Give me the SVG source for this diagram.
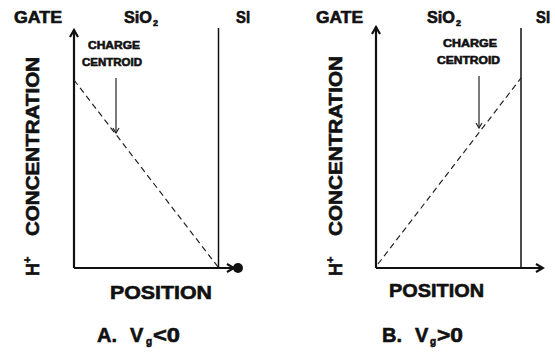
<svg xmlns="http://www.w3.org/2000/svg" width="555" height="352" viewBox="0 0 555 352">
<style>
.t{font-family:"Liberation Sans",Arial,sans-serif;font-weight:bold;fill:#111;stroke:#111;stroke-width:0.6}
.ax{stroke:#111;stroke-width:2.2;fill:none}
.si{stroke:#111;stroke-width:1.5;fill:none}
.dash{stroke:#222;stroke-width:1.2;stroke-dasharray:6,4;fill:none}
.cc{stroke:#222;stroke-width:1.2;fill:none}
</style>
<defs>
<marker id="ah" markerWidth="10" markerHeight="10" refX="8" refY="5" orient="auto" markerUnits="userSpaceOnUse">
<path d="M1,1 L8,5 L1,9" fill="none" stroke="#111" stroke-width="2.2"/>
</marker>
<marker id="sm" markerWidth="10" markerHeight="10" refX="5" refY="9" orient="0" markerUnits="userSpaceOnUse">
<path d="M2,4 L5,9 L8,4" fill="none" stroke="#222" stroke-width="1.2"/>
</marker>
</defs>
<rect width="555" height="352" fill="#fff"/>

<g id="panelA">
<text class="t" x="14" y="23" font-size="16" textLength="48" lengthAdjust="spacingAndGlyphs">GATE</text>
<text class="t" x="124" y="23" font-size="16" textLength="28" lengthAdjust="spacingAndGlyphs">SiO</text>
<text class="t" x="153" y="26" font-size="9">2</text>
<text class="t" x="236" y="23" font-size="16" textLength="14" lengthAdjust="spacingAndGlyphs">SI</text>
<text class="t" x="88" y="49" font-size="11" textLength="52" lengthAdjust="spacingAndGlyphs">CHARGE</text>
<text class="t" x="82" y="66" font-size="11" textLength="60" lengthAdjust="spacingAndGlyphs">CENTROID</text>
<text class="t" transform="translate(39,276) rotate(-90)" font-size="18">H<tspan font-size="11" dy="-8">+</tspan></text>
<text class="t" transform="translate(39,236) rotate(-90)" font-size="18" textLength="179" lengthAdjust="spacingAndGlyphs">CONCENTRATION</text>
<text class="t" x="110" y="299" font-size="19" textLength="102" lengthAdjust="spacingAndGlyphs">POSITION</text>
<text class="t" x="97" y="342" font-size="20">A.</text>
<text class="t" x="130" y="342" font-size="20">V</text>
<text class="t" x="146" y="345" font-size="10">g</text>
<text class="t" x="153" y="342" font-size="20" textLength="27" lengthAdjust="spacingAndGlyphs">&lt;0</text>
</g>

<g id="panelB">
<text class="t" x="316" y="23" font-size="16" textLength="47" lengthAdjust="spacingAndGlyphs">GATE</text>
<text class="t" x="427" y="23" font-size="16" textLength="28" lengthAdjust="spacingAndGlyphs">SiO</text>
<text class="t" x="456" y="26" font-size="9">2</text>
<text class="t" x="536" y="23" font-size="16" textLength="14" lengthAdjust="spacingAndGlyphs">SI</text>
<text class="t" x="443" y="47" font-size="11" textLength="54" lengthAdjust="spacingAndGlyphs">CHARGE</text>
<text class="t" x="437" y="64" font-size="11" textLength="63" lengthAdjust="spacingAndGlyphs">CENTROID</text>
<text class="t" transform="translate(342,276) rotate(-90)" font-size="18">H<tspan font-size="11" dy="-8">+</tspan></text>
<text class="t" transform="translate(342,236) rotate(-90)" font-size="18" textLength="180" lengthAdjust="spacingAndGlyphs">CONCENTRATION</text>
<text class="t" x="389" y="297" font-size="19" textLength="95" lengthAdjust="spacingAndGlyphs">POSITION</text>
<text class="t" x="382" y="342" font-size="20">B.</text>
<text class="t" x="415" y="342" font-size="20">V</text>
<text class="t" x="430" y="345" font-size="10">g</text>
<text class="t" x="437" y="342" font-size="20" textLength="26" lengthAdjust="spacingAndGlyphs">&gt;0</text>
</g>

<g id="connectors">
<line class="ax" x1="74" y1="268" x2="74" y2="30" marker-end="url(#ah)"/>
<line class="ax" x1="74" y1="268" x2="234" y2="268" marker-end="url(#ah)"/>
<circle cx="238" cy="268" r="5" fill="#111"/>
<line class="si" x1="218.5" y1="28" x2="218.5" y2="268"/>
<line class="dash" x1="74" y1="80" x2="218" y2="267"/>
<line class="cc" x1="116" y1="78" x2="116" y2="133" marker-end="url(#sm)"/>

<line class="ax" x1="376" y1="268" x2="376" y2="27" marker-end="url(#ah)"/>
<line class="ax" x1="376" y1="268" x2="543" y2="268" marker-end="url(#ah)"/>
<line class="si" x1="521" y1="28" x2="521" y2="268"/>
<line class="dash" x1="378" y1="264" x2="521" y2="78"/>
<line class="cc" x1="479" y1="76" x2="479" y2="128" marker-end="url(#sm)"/>
</g>
</svg>
